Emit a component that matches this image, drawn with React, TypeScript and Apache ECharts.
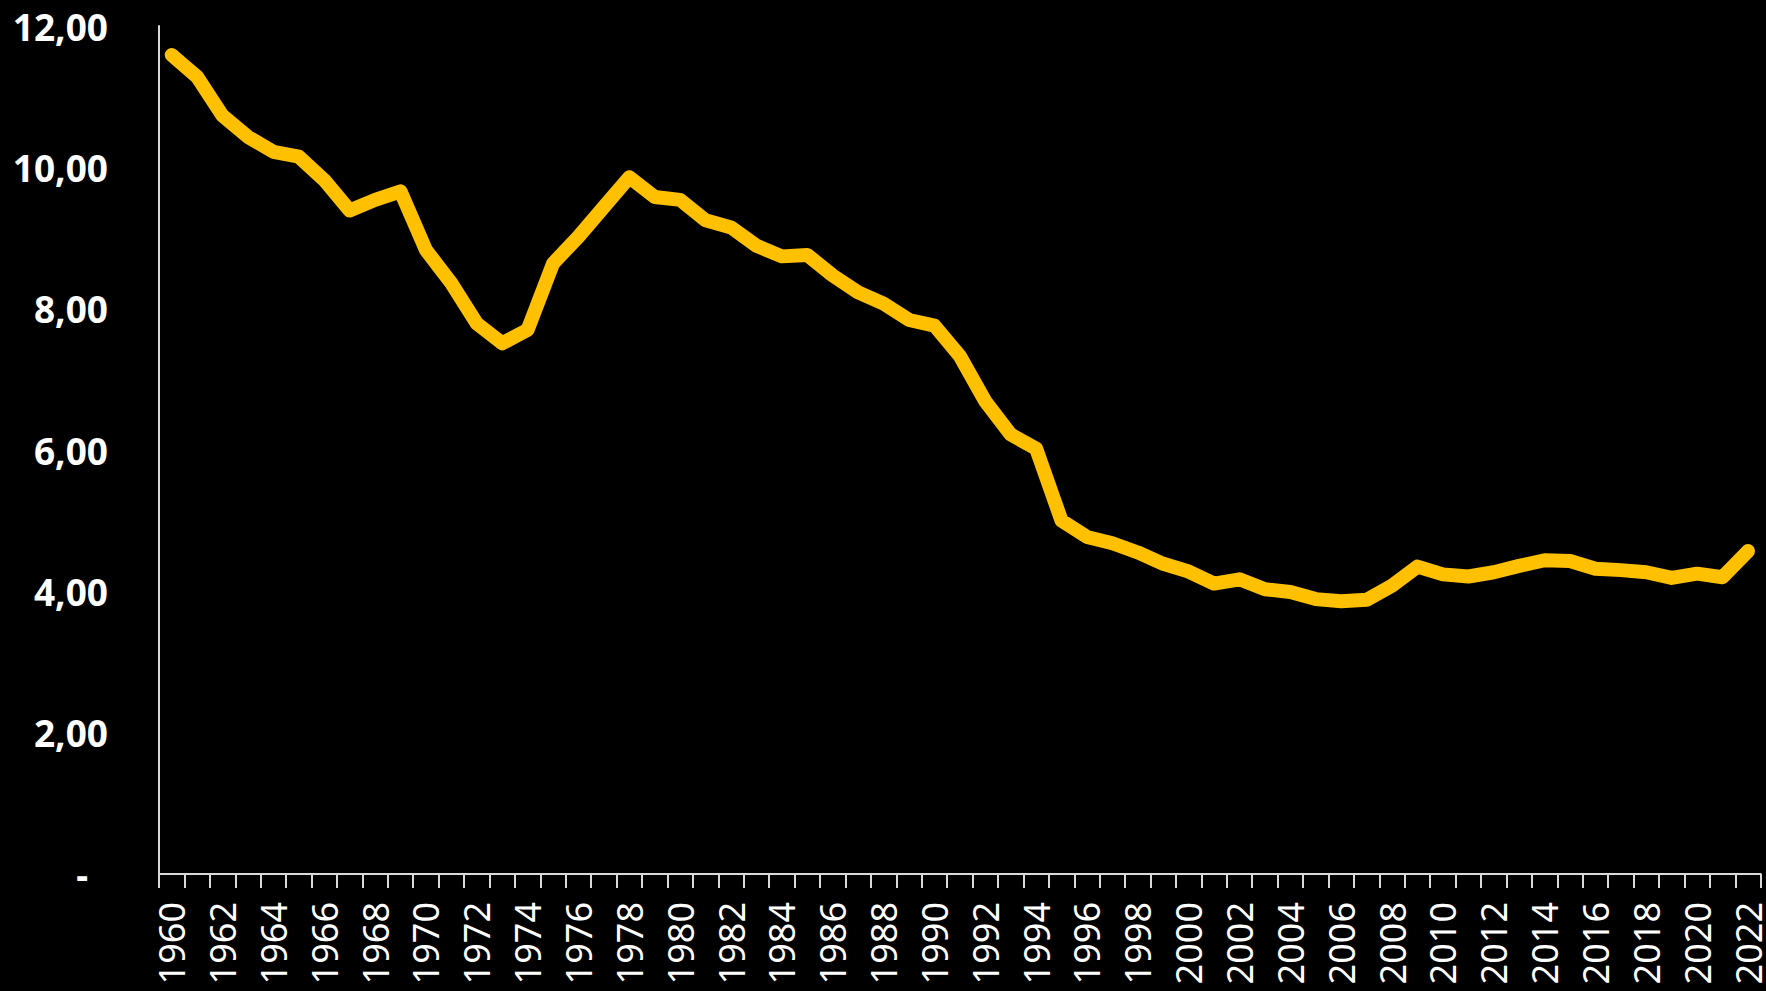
import React, { useEffect, useRef } from "react";
import * as echarts from "echarts";

const years: string[] = [];
for (let y = 1960; y <= 2022; y++) years.push(String(y));

const values: number[] = [
  11.59, 11.28, 10.73, 10.43, 10.22, 10.15, 9.82, 9.39, 9.54, 9.66,
  8.83, 8.36, 7.79, 7.51, 7.70, 8.64, 9.02, 9.44, 9.86, 9.58,
  9.54, 9.25, 9.15, 8.89, 8.74, 8.76, 8.47, 8.23, 8.07, 7.84,
  7.76, 7.33, 6.69, 6.22, 6.02, 5.00, 4.77, 4.68, 4.55, 4.39,
  4.28, 4.11, 4.17, 4.03, 3.99, 3.89, 3.86, 3.88, 4.08, 4.35,
  4.24, 4.21, 4.27, 4.36, 4.44, 4.43, 4.32, 4.30, 4.27, 4.19,
  4.25, 4.20, 4.57,
];

const yMin = 0;
const yMax = 12;
const yStep = 2;

export default function App() {
  const ref = useRef<HTMLDivElement>(null);
  useEffect(() => {
    document.body.style.margin = "0";
    document.body.style.background = "#000";
    const chart = echarts.init(ref.current!, null, { renderer: "svg" });
    chart.setOption({
      animation: false,
      backgroundColor: "#000000",
      grid: { left: 159, top: 26, right: 5, bottom: 117, containLabel: false },
      xAxis: {
        type: "category",
        data: years,
        boundaryGap: true,
        axisLine: { show: true, lineStyle: { color: "#d9d9d9", width: 2 } },
        axisTick: { show: true, interval: 0, length: 14, lineStyle: { color: "#d9d9d9", width: 2 } },
        axisLabel: {
          interval: 1,
          rotate: 90,
          margin: 28,
          color: "#ffffff",
          fontSize: 36,
          fontFamily: "Noto Sans",
        },
        splitLine: { show: false },
      },
      yAxis: {
        type: "value",
        min: yMin,
        max: yMax,
        interval: yStep,
        axisLine: { show: true, lineStyle: { color: "#d9d9d9", width: 2 } },
        axisTick: { show: false },
        splitLine: { show: false },
        axisLabel: {
          margin: 51,
          color: "#ffffff",
          fontSize: 37,
          fontWeight: "bold",
          fontFamily: "Noto Sans",
          formatter: (v: number) => (v === 0 ? "{d|-}" : v.toFixed(2).replace(".", ",")),
          rich: {
            d: {
              color: "#ffffff",
              fontSize: 37,
              fontWeight: "bold",
              fontFamily: "Noto Sans",
              padding: [0, 20, 0, 0],
            },
          },
        },
      },
      series: [
        {
          type: "line",
          data: values,
          symbol: "none",
          lineStyle: { color: "#FFC000", width: 14, cap: "round", join: "round" },
        },
      ],
    });
    return () => chart.dispose();
  }, []);
  return <div ref={ref} style={{ width: 1766, height: 991 }} />;
}
